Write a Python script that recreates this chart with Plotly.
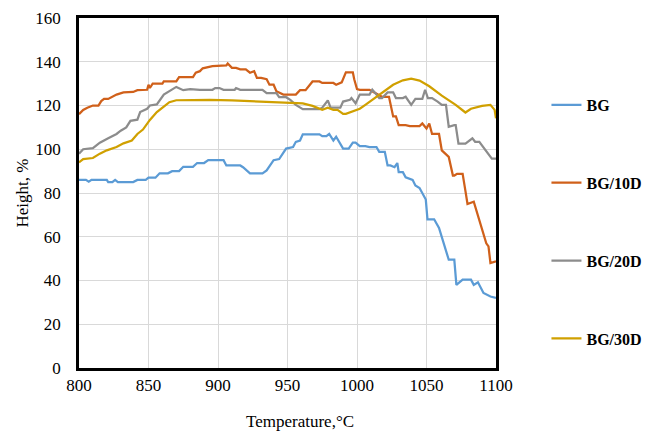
import plotly.graph_objects as go

# ---- data ----
bg_t = [800, 805, 807, 809, 815, 820, 821, 824, 826, 828, 832, 839, 842, 848, 850, 855, 858, 864, 867, 872,
        875, 882, 885, 890, 893, 904, 906, 916, 918, 923, 932, 935, 940, 944, 949, 954, 956, 959, 961, 973,
        975, 978, 980, 983, 985, 990, 994, 997, 999, 1002, 1006, 1009, 1014, 1016, 1020, 1022, 1024, 1027,
        1029, 1030, 1033, 1035, 1040, 1042, 1045, 1049.5, 1050.7, 1055.5, 1059, 1064, 1066, 1070, 1071.5,
        1076, 1082, 1084, 1087, 1091, 1096, 1100]
bg_h = [86, 86, 85.2, 86, 86, 86, 85, 85, 86, 85, 85, 85, 86, 86, 87, 87, 89, 89, 90, 90,
        92, 92, 93.7, 93.7, 95, 95, 92.6, 92.6, 91.8, 89, 89, 90.3, 95, 95.5, 100.3, 101, 103.4, 104, 106.8, 106.8,
        106, 106, 107, 104, 105.7, 100.3, 100.3, 103, 103, 101.4, 101.4, 101, 101, 98.8, 98.8, 92.6, 92.6, 91.8,
        93.7, 89.5, 89.5, 87.2, 86, 83.4, 82.3, 77, 68, 68, 64, 54, 49.5, 49.5, 38,
        40.4, 40.4, 38, 39.2, 34.3, 32.7, 32]

bg10_t = [800, 803, 806, 810, 814, 816, 818, 821, 827, 832, 839, 842, 849, 850, 851, 853, 860, 861, 870, 872,
          882, 884, 887, 889, 896, 906, 907, 910, 913, 916, 920, 923, 926, 928, 931, 935, 937, 940, 942, 947,
          956, 959, 963, 966, 968, 973, 975, 983, 985, 989, 992, 997, 998, 1000, 1002, 1009, 1011, 1018, 1023,
          1026, 1028, 1030, 1035, 1038, 1045, 1047, 1050, 1052, 1054, 1059, 1061, 1066, 1069, 1070, 1072, 1076,
          1078, 1079.5, 1084, 1088, 1093, 1094.6, 1096, 1100]
bg10_h = [116, 118, 119, 120, 120, 122, 123, 123, 125, 126, 126.2, 127, 127.2, 129.5, 128, 130, 130, 131, 131, 133,
          133, 135, 135.7, 137, 138, 138.3, 139.2, 137.2, 137.2, 136.5, 136.5, 135, 135.7, 132.6, 132.6, 132, 129.5, 129.5, 126.5, 125,
          125, 127, 127, 129.5, 131, 131, 130.3, 130.3, 129.5, 130.6, 135.2, 135.2, 132, 127.5, 127.2, 127.2, 126.5, 124, 124,
          115, 115, 111, 111, 110.6, 110.6, 111.8, 109.5, 111.8, 107, 107, 99.5, 96.5, 88, 88, 88.8, 88.8,
          81, 75, 76, 68, 57, 55.6, 48, 48.8]

bg20_t = [800, 803, 810, 815, 821, 827, 830, 834, 837, 842, 844, 849, 851, 856, 861, 866, 870, 875, 880, 887,
          896, 898, 901, 904, 912, 913, 916, 932, 935, 942, 944, 949, 952, 956, 961, 973, 975, 979, 981, 988,
          990, 995, 996, 999, 1002, 1009, 1011, 1014, 1016, 1018, 1022, 1026, 1028, 1033, 1035, 1039, 1042, 1047,
          1049, 1051, 1054, 1058, 1061, 1064, 1066, 1070, 1071, 1073, 1078, 1083, 1085, 1088, 1093, 1097, 1100]
bg20_h = [98, 100, 100.5, 103, 105, 107, 108.5, 110, 113, 113.5, 117, 118.5, 120, 120.5, 125, 127, 128.5, 127, 127.5, 127.2,
          127.2, 128, 128, 127.2, 127.2, 128, 127.2, 127.2, 125.7, 125.7, 123.8, 123.8, 122.6, 120.3, 118.3, 118.3, 119, 122.3, 119, 119,
          121.8, 122.6, 123.4, 121, 125, 125, 127.2, 125, 123.4, 123.4, 126, 126, 123.4, 123.4, 124, 120.3, 123, 123,
          127.2, 123.4, 123.4, 121.8, 120.3, 120.3, 110.3, 111, 111, 102.6, 102.6, 105, 103.4, 103.4, 98.8, 95.7, 95.7]

bg30_t = [800, 803, 810, 815, 820, 827, 832, 838, 842, 846, 851, 856, 861, 865, 870, 880, 894, 910, 935, 949,
          961, 968, 975, 979, 983, 986, 990, 992, 997, 1002, 1006, 1016, 1026, 1033, 1039, 1045, 1052, 1061, 1071,
          1078, 1082, 1090, 1096, 1099, 1100]
bg30_h = [94, 95.5, 96, 98, 99.5, 101, 102.7, 104, 107, 109, 113.4, 117, 119.5, 121.5, 122.4, 122.6, 122.6, 122.3, 121.8, 121.4,
          121, 119.8, 118, 119, 118, 118, 116.2, 116.2, 117.2, 118.5, 120.3, 125, 129.5, 131.5, 132.3, 131.4, 128.8, 124.5, 120.3,
          116.8, 118.5, 119.8, 120.3, 118, 114.2]

series_names = ["BG", "BG/10D", "BG/20D", "BG/30D"]
series_t = [bg_t, bg10_t, bg20_t, bg30_t]
series_h = [bg_h, bg10_h, bg20_h, bg30_h]
colors = ["#5B9BD5", "#D0601A", "#8C8C8C", "#D0A000"]

x_ticks = [800, 850, 900, 950, 1000, 1050, 1100]
y_ticks = [0, 20, 40, 60, 80, 100, 120, 140, 160]

FONT = "Liberation Serif"

fig = go.Figure()
for name, t, h, c in zip(series_names, series_t, series_h, colors):
    fig.add_trace(go.Scatter(x=t, y=h, mode="lines", name=name, legendgroup=name,
                             line=dict(color=c, width=2.25)))

axis_common = dict(showline=True, linecolor="black", linewidth=2.5, mirror=True,
                   showgrid=True, gridcolor="#D9D9D9", gridwidth=1.2, zeroline=False,
                   ticks="", automargin=False,
                   tickfont=dict(family=FONT, size=17, color="black"))

fig.update_xaxes(range=[800, 1100], tickvals=x_ticks, ticklabelstandoff=0, **axis_common)
fig.update_yaxes(range=[0, 160], tickvals=y_ticks, ticklabelstandoff=12,
                 title=dict(text="Height, %", font=dict(family=FONT, size=17, color="black"), standoff=3),
                 **axis_common)

fig.add_annotation(text="Temperature,°C", xref="paper", yref="paper", x=0.5295, y=-0.152,
                   xanchor="center", yanchor="middle", showarrow=False,
                   font=dict(family=FONT, size=17, color="black"))

# the page body adds an 8px margin, so the figure is sized to fit the 651x439 window
fig.update_layout(
    width=643, height=431,
    margin=dict(l=71, r=155, t=10, b=71, autoexpand=False),
    paper_bgcolor="white", plot_bgcolor="white",
    font=dict(family=FONT, color="black"),
    showlegend=True,
    legend=dict(x=1.121, y=0.80, xanchor="left", yanchor="top",
                font=dict(family=FONT, size=16, color="black", weight="bold"),
                tracegroupgap=54, bgcolor="rgba(0,0,0,0)", borderwidth=0),
)

fig.write_html("out.html")
